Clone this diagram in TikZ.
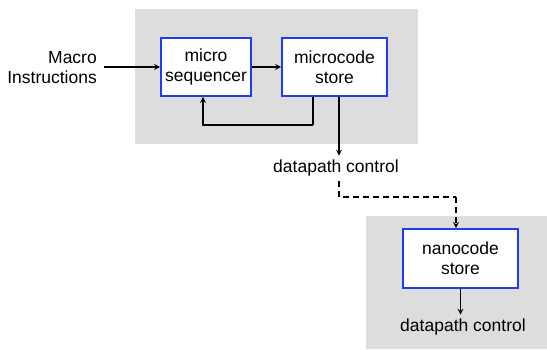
\documentclass[tikz,border=0pt]{standalone}
\usepackage{fontspec}
\setmainfont{Liberation Sans}
\usepackage{tikz}
\usetikzlibrary{arrows, positioning}

\definecolor{panelgray}{RGB}{221,221,221}
\definecolor{boxblue}{RGB}{30,60,240}

\tikzset{
  panel/.style={fill=panelgray},
  unit/.style={draw=boxblue, fill=white, line width=1.8pt, align=center,
    inner sep=0pt, font=\fontsize{17.5}{20}\selectfont},
  lbl/.style={align=center, inner sep=0pt, font=\fontsize{17.5}{20}\selectfont},
  wire/.style={line width=1.6pt, ->}
}

\begin{document}
\begin{tikzpicture}[x=1pt, y=-1pt, >=stealth]
      \useasboundingbox (0,0) rectangle (547,349);
      % shaded panels
      \fill[panel] (135,9) rectangle (418,144);
      \fill[panel] (366,216) rectangle (547,349);
      % units
      \node[unit, minimum width=90pt, minimum height=58pt] (seq) at (206,67) {micro\\sequencer};
      \node[unit, minimum width=105pt, minimum height=58pt] (ucode) at (334.5,67) {microcode\\store};
      \node[unit, minimum width=115pt, minimum height=59pt] (nano) at (460.5,258.5) {nanocode\\store};
      % labels
      \node[lbl, align=right, anchor=east] (macro) at (97,68) {Macro\\Instructions};
      \node[lbl] (dp1) at (336,168) {datapath control};
      \node[lbl] (dp2) at (463,327) {datapath control};
      \coordinate (in) at (104,67);
      \coordinate (fb) at (313,125);
      \coordinate (dash0) at (339,181);
      \coordinate (bend) at (456,197);
      \draw[wire] (in) -- (seq.west);
      \draw[wire] (seq) -- (ucode);
      \draw[wire, -] (ucode.south -| fb) -- (fb);
      \draw[wire] (fb) -| ([xshift=-3pt]seq.south);
      \draw[wire, shorten >=4pt] ([xshift=4.5pt]ucode.south) -- ([xshift=3pt]dp1.north);
      \draw[line width=1.6pt, dash pattern=on 6pt off 4pt] (dash0) |- (bend);
      \draw[wire, dash pattern=on 6pt off 4pt] (bend) -- (bend |- nano.north);
      \draw[wire, shorten >=4pt] (nano.south) -- (nano.south |- dp2.north);
    \end{tikzpicture}
\end{document}
